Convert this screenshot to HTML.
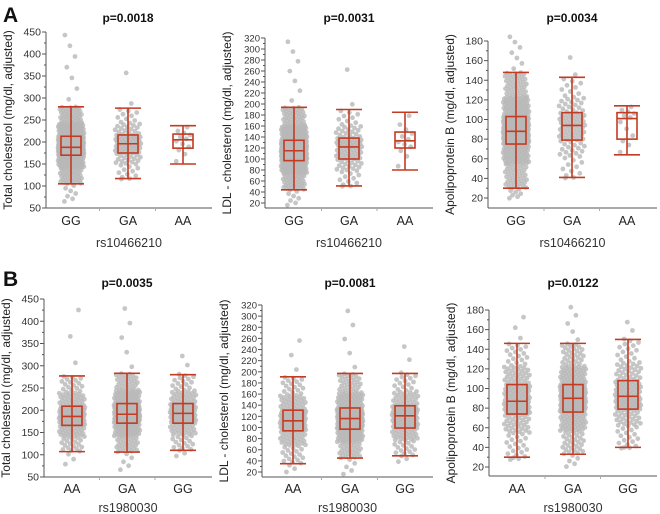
<!DOCTYPE html>
<html><head><meta charset="utf-8">
<style>
html,body{margin:0;padding:0;background:#fff;}
svg{display:block;font-family:"Liberation Sans",Arial,sans-serif;}
</style></head>
<body>
<svg id="fig" width="660" height="514" viewBox="0 0 660 514" xmlns="http://www.w3.org/2000/svg">
<text x="3" y="22" font-size="21" font-weight="bold" fill="#111">A</text>
<text x="3" y="286" font-size="21" font-weight="bold" fill="#111">B</text>
</svg>
<script>
// ---- data ----
const catsA = ["GG","GA","AA"];
const catsB = ["AA","GA","GG"];
const pvals = ["p=0.0018","p=0.0031","p=0.0034","p=0.0035","p=0.0081","p=0.0122"];
const yTitles = ["Total cholesterol (mg/dl, adjusted)","LDL - cholesterol (mg/dl, adjusted)","Apolipoprotein B (mg/dl, adjusted)"];
const snps = ["rs10466210","rs1980030"];
const ticksTC = [50,100,150,200,250,300,350,400,450];
const ticksLDL = [20,40,60,80,100,120,140,160,180,200,220,240,260,280,300,320];
const ticksApoB = [20,40,60,80,100,120,140,160,180];
// [whiskerLow, q1, median, q3, whiskerHigh, min, max, n]
const statsA1 = [[105,170,188,213,280,62,455,480],[117,175,196,216,277,115,392,110],[150,186,205,218,237,150,237,12]];
const statsA2 = [[44,97,115,134,194,14,322,480],[51,100,122,138,190,50,294,110],[80,120,133,149,185,80,185,12]];
const statsA3 = [[30,75,88,103,148,19,187,480],[41,79,94,107,143,40,172,110],[64,80,101,107,114,64,114,12]];
const statsB1 = [[107,166,186,209,277,73,455,200],[106,171,191,215,283,62,445,330],[110,171,193,215,280,94,332,170]];
const statsB2 = [[35,94,112,131,191,17,269,200],[45,97,116,135,197,13,322,330],[49,99,121,139,197,36,257,170]];
const statsB3 = [[30,74,87,104,146,27,178,200],[33,76,90,104,146,19,187,330],[40,79,92,108,150,39,172,170]];

const panels = [
 {ax:46, right:212, yMaxPx:32, yMinPx:208, bottom:208, lab:13, xt:35, ticks:ticksTC, cx:[71,128,183], cats:catsA, stats:statsA1, p:0, t:0, s:0, top:22},
 {ax:265, right:433, yMaxPx:38, yMinPx:203, bottom:208, lab:13, xt:35, ticks:ticksLDL, cx:[294,349,405], cats:catsA, stats:statsA2, p:1, t:1, s:0, top:22},
 {ax:488, right:657, yMaxPx:41, yMinPx:198, bottom:208, lab:13, xt:35, ticks:ticksApoB, cx:[516,572,627], cats:catsA, stats:statsA3, p:2, t:2, s:0, top:22},
 {ax:44, right:212, yMaxPx:299, yMinPx:477, bottom:477, lab:12, xt:31, ticks:ticksTC, cx:[72,127,183], cats:catsB, stats:statsB1, p:3, t:0, s:1, top:287},
 {ax:262, right:433, yMaxPx:305, yMinPx:472, bottom:477, lab:12, xt:31, ticks:ticksLDL, cx:[293,350,405], cats:catsB, stats:statsB2, p:4, t:1, s:1, top:287},
 {ax:489, right:657, yMaxPx:310, yMinPx:467, bottom:476, lab:13, xt:32, ticks:ticksApoB, cx:[517,573,628], cats:catsB, stats:statsB3, p:5, t:2, s:1, top:287}
];

const NS="http://www.w3.org/2000/svg";
const svg=document.getElementById('fig');
function mk(tag,attrs,parent){const e=document.createElementNS(NS,tag);for(const k in attrs)e.setAttribute(k,attrs[k]);(parent||svg).appendChild(e);return e;}
const RED="#c23b22", AX="#555";

panels.forEach((P,pi)=>{
  const g=mk('g',{});
  
  
  const t0=P.ticks[0], t1=P.ticks[P.ticks.length-1];
  const y=v=>P.yMinPx+(v-t0)*(P.yMaxPx-P.yMinPx)/(t1-t0);
  // points
  const pg=mk('g',{},g);
  
  
  P.stats.forEach((st,ci)=>{
    const [wl,q1,md,q3,wh,mn,mx,n]=st;
    const qs=[0,0.015,0.1,0.25,0.5,0.75,0.9,0.985,1];
    const vs=[mn,wl,q1-(q1-wl)*0.45,q1,md,q3,q3+(wh-q3)*0.45,wh,mx];
    for(let i=0;i<n;i++){
      const u=(i+0.5)/n;
      let k=0;while(k<qs.length-2&&u>qs[k+1])k++;
      const v=vs[k]+(vs[k+1]-vs[k])*(u-qs[k])/(qs[k+1]-qs[k]);
      const f=((i*0.618034)%1)*2-1;
      let w=n>100?13:(n>50?10:8);
      if(u<0.1||u>0.9) w*=0.85;
      if(u<0.015||u>0.985) w*=0.6;
      const c=mk('circle',{cx:(P.cx[ci]+f*w).toFixed(1),cy:y(v).toFixed(1),r:2.4,fill:'#b8b8b8','fill-opacity':0.8},pg);
      
      
    }
  });
  // boxes
  P.stats.forEach((st,ci)=>{
    const [wl,q1,md,q3,wh]=st, x=P.cx[ci], bw=10, cw=13;
    const bg=mk('g',{stroke:RED,'stroke-width':1.6,fill:'none'},g);
    
    
    mk('line',{x1:x,x2:x,y1:y(wl),y2:y(wh)},bg);
    mk('line',{x1:x-cw,x2:x+cw,y1:y(wl),y2:y(wl)},bg);
    mk('line',{x1:x-cw,x2:x+cw,y1:y(wh),y2:y(wh)},bg);
    mk('rect',{x:x-bw,y:y(q3),width:2*bw,height:y(q1)-y(q3)},bg);
    mk('line',{x1:x-bw,x2:x+bw,y1:y(md),y2:y(md)},bg);
  });
  // axes
  const yl=mk('line',{x1:P.ax,x2:P.ax,y1:y(t1),y2:P.bottom,stroke:AX,'stroke-width':1},g);
  
  
  const xl=mk('line',{x1:P.ax,x2:P.right,y1:P.bottom,y2:P.bottom,stroke:AX,'stroke-width':1},g);
  
  
  P.ticks.forEach((tv,i)=>{
    mk('line',{x1:P.ax-4,x2:P.ax,y1:y(tv),y2:y(tv),stroke:AX},g);
    if(i<P.ticks.length-1){const m=(tv+P.ticks[i+1])/2;mk('line',{x1:P.ax-2,x2:P.ax,y1:y(m),y2:y(m),stroke:AX},g);}
    const tl=mk('text',{x:P.ax-5,y:y(tv)+3.5,'font-size':P.ticks.length>10?9.5:10.5,'text-anchor':'end',fill:'#333'},g);
    
    
    tl.textContent=tv;
  });
  [ (P.cx[0]+P.cx[1])/2, (P.cx[1]+P.cx[2])/2 ].forEach(xx=>mk('line',{x1:xx,x2:xx,y1:P.bottom,y2:P.bottom+3,stroke:'#aaa'},g));
  P.cats.forEach((c,ci)=>{
    const tl=mk('text',{x:P.cx[ci],y:P.bottom+P.lab+4,'font-size':12.5,'text-anchor':'middle',fill:'#222'},g);
    
    
    tl.textContent=c;
  });
  const xt=mk('text',{x:(P.ax+P.right)/2,y:P.bottom+P.xt+4,'font-size':12.5,'text-anchor':'middle',fill:'#333'},g);
  
  
  xt.textContent=snps[P.s];
  const yt=mk('text',{x:0,y:0,'font-size':12,'text-anchor':'middle',fill:'#222',transform:`translate(${P.ax-34},${(y(t1)+P.bottom)/2}) rotate(-90)`},g);
  
  
  yt.textContent=yTitles[P.t];
  const tt=mk('text',{x:P.cx[1],y:P.top,'font-size':12,'font-weight':'bold','text-anchor':'middle',fill:'#111'},g);
  
  
  tt.textContent=pvals[P.p];
});
</script>
</body></html>
